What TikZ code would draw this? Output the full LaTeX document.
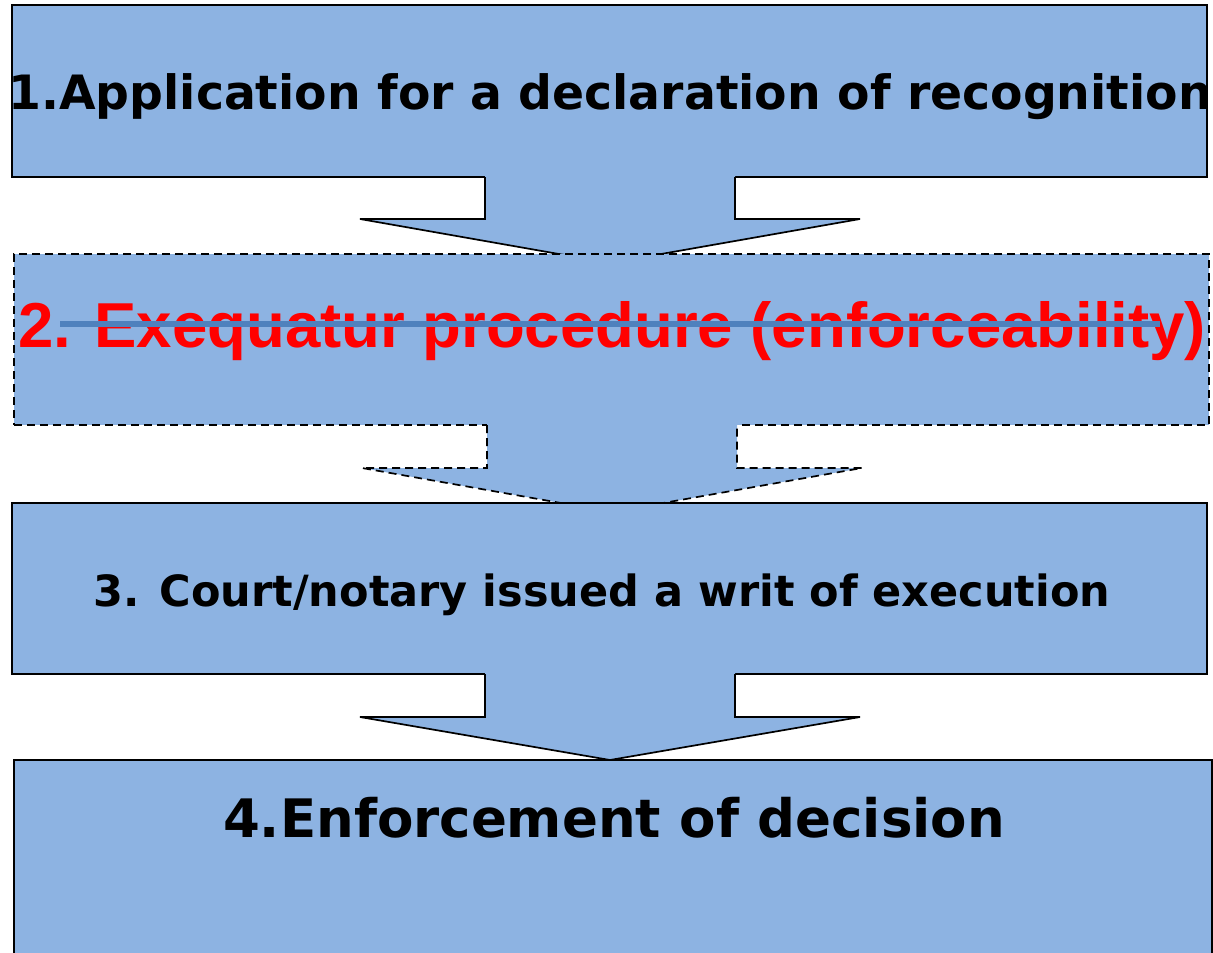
\documentclass[tikz,border=0pt]{standalone}
\usepackage{fontspec}
\setmainfont{DejaVu Sans}
\newfontfamily\arialfont{Liberation Sans}
\usetikzlibrary{calc}
\definecolor{stagefill}{RGB}{141,179,226}
\definecolor{strikeblue}{RGB}{79,129,189}
\tikzset{
  stage/.style={draw=black, line width=1.7pt, fill=stagefill, inner sep=0pt, outer sep=0pt},
  stagedash/.style={stage, dash pattern=on 8pt off 5pt},
  flowline/.style={draw=black, line width=1.7pt, line join=miter},
  flowdash/.style={flowline, dash pattern=on 8pt off 5pt},
  steptext/.style={anchor=base, inner sep=0pt, font=\bfseries},
}
\begin{document}
\begin{tikzpicture}[x=1pt,y=-1pt]
\useasboundingbox (0,0) rectangle (1213,953);
\clip (0,0) rectangle (1213,953);

% stage 1
\node[stage, minimum width=1195pt, minimum height=172pt] (b1) at (609.5,91) {};
\node[steptext, font=\bfseries\fontsize{47.3}{57}\selectfont] (t1) at (610,109)
  {1.Application for a declaration of recognition};

% arrow 1 -> 2
\coordinate (a1) at ($(b1.south)+(0.5,0)$);
\fill[stagefill] ($(a1)+(-125,-2)$) -- ($(a1)+(-125,42)$) -- ($(a1)+(-250,42)$)
  -- ($(a1)+(0,86)$) -- ($(a1)+(250,42)$) -- ($(a1)+(125,42)$) -- ($(a1)+(125,-2)$) -- cycle;
\draw[flowline] ($(a1)+(-125,0)$) -- ($(a1)+(-125,42)$) -- ($(a1)+(-250,42)$)
  -- ($(a1)+(0,86)$) -- ($(a1)+(250,42)$) -- ($(a1)+(125,42)$) -- ($(a1)+(125,0)$);

% stage 2 (struck out)
\node[stagedash, minimum width=1195pt, minimum height=171pt] (b2) at (611.5,339.5) {};
\node[steptext, text=red, font=\arialfont\bfseries\fontsize{63.5}{75}\selectfont] (t2) at (612,347)
  {2. Exequatur procedure (enforceability)};
\coordinate (s1) at (60,324);
\coordinate (s2) at (1160,324);
\draw[strikeblue, line width=6pt] (s1) -- (s2);

% arrow 2 -> 3
\coordinate (a2) at ($(b2.south)+(0.5,0)$);
\fill[stagefill] ($(a2)+(-125,-2)$) -- ($(a2)+(-125,43)$) -- ($(a2)+(-250,43)$)
  -- ($(a2)+(0,87)$) -- ($(a2)+(250,43)$) -- ($(a2)+(125,43)$) -- ($(a2)+(125,-2)$) -- cycle;
\draw[flowdash] ($(a2)+(-125,0)$) -- ($(a2)+(-125,43)$) -- ($(a2)+(-250,43)$)
  -- ($(a2)+(0,87)$) -- ($(a2)+(250,43)$) -- ($(a2)+(125,43)$) -- ($(a2)+(125,0)$);

% stage 3
\node[stage, minimum width=1195pt, minimum height=171pt] (b3) at (609.5,588.5) {};
\node[steptext, font=\bfseries\fontsize{43}{52}\selectfont] (t3) at (602,606)
  {3. Court/notary issued a writ of execution};

% arrow 3 -> 4
\coordinate (a3) at ($(b3.south)+(0.5,0)$);
\fill[stagefill] ($(a3)+(-125,-2)$) -- ($(a3)+(-125,43)$) -- ($(a3)+(-250,43)$)
  -- ($(a3)+(0,86)$) -- ($(a3)+(250,43)$) -- ($(a3)+(125,43)$) -- ($(a3)+(125,-2)$) -- cycle;
\draw[flowline] ($(a3)+(-125,0)$) -- ($(a3)+(-125,43)$) -- ($(a3)+(-250,43)$)
  -- ($(a3)+(0,86)$) -- ($(a3)+(250,43)$) -- ($(a3)+(125,43)$) -- ($(a3)+(125,0)$);

% stage 4
\node[stage, minimum width=1198pt, minimum height=240pt] (b4) at (613,880) {};
\node[steptext, font=\bfseries\fontsize{53}{63}\selectfont] (t4) at (614,837)
  {4.Enforcement of decision};
\end{tikzpicture}
\end{document}
